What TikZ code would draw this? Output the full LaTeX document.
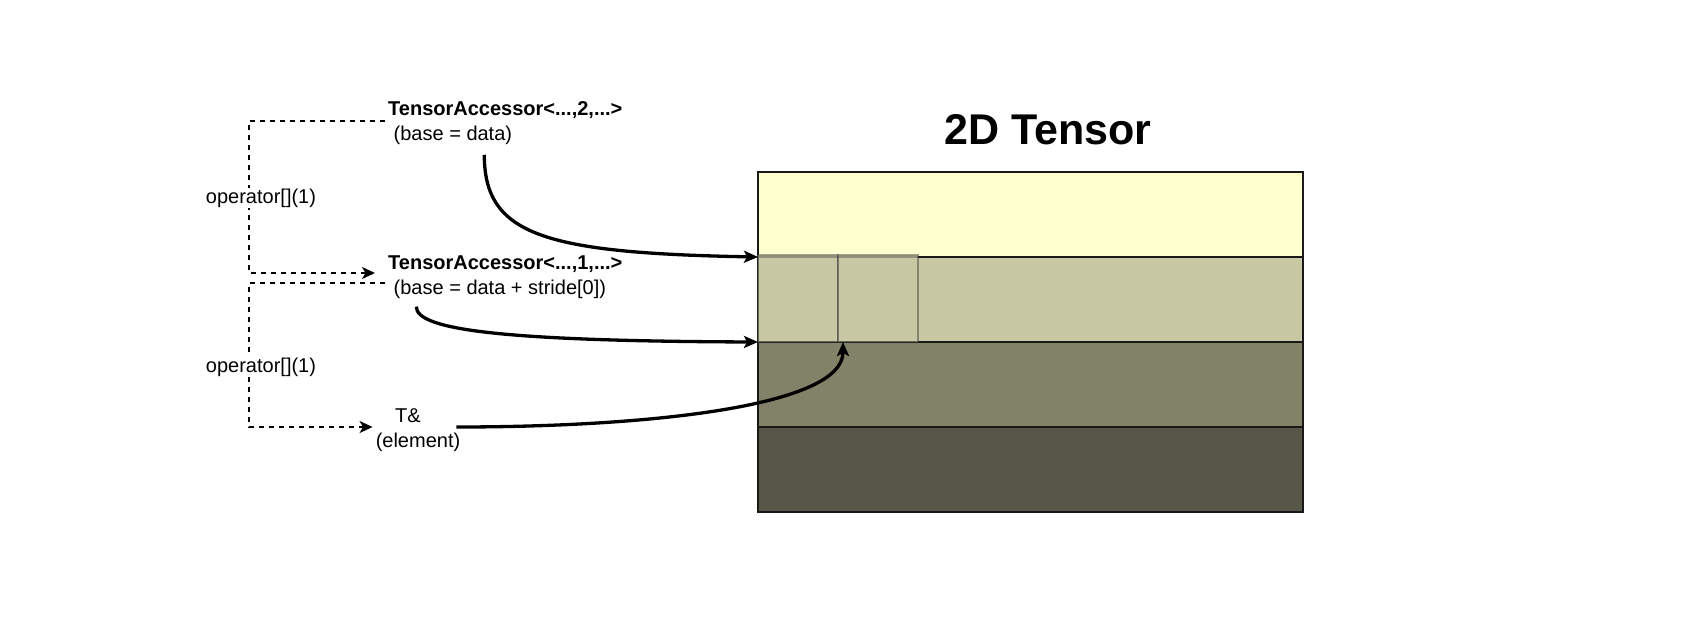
\documentclass[tikz,border=0pt]{standalone}
\usepackage{fontspec}
\setmainfont{Liberation Sans}
\usetikzlibrary{positioning,arrows.meta}
\definecolor{rowA}{HTML}{FFFFD0}
\definecolor{rowB}{HTML}{C8C8A5}
\definecolor{rowC}{HTML}{828269}
\definecolor{rowD}{HTML}{565748}
\begin{document}
\begin{tikzpicture}[x=1pt, y=-1pt, every node/.style={font=\fontsize{20}{25}\selectfont},
		tband/.style={draw=black!90, line width=2pt, minimum width=545pt, minimum height=85pt,
		inner sep=0pt, outer sep=0pt},
		slot/.style={draw=black!80, draw opacity=0.45, fill=rowB, fill opacity=0.7, line width=2.6pt,
		minimum width=80pt, minimum height=87pt, inner sep=0pt, outer sep=0pt},
		acc/.style={align=left, anchor=west, inner xsep=3pt, inner ysep=3pt},
		oplbl/.style={fill=white, inner sep=1pt},
		dashln/.style={line width=1.6pt, dash pattern=on 5pt off 5pt,
		-{Stealth[length=13pt, width=12pt, inset=3.5pt]}},
		ptr/.style={line width=3.3pt, -{Stealth[length=14pt, width=12pt, inset=3pt]}} ]
	\useasboundingbox (0,0) rectangle (1702,630);
	\node[tband, fill=rowA, anchor=north west] (r1) at (758,172) {};
	\node[tband, fill=rowB, below=0pt of r1] (r2) {};
	\node[tband, fill=rowC, below=0pt of r2] (r3) {};
	\node[tband, fill=rowD, below=0pt of r3] (r4) {};
	\node[slot, anchor=south west] (s1) at (r2.south west) {};
	\node[slot, right=0pt of s1] (s2) {};
	\node[font=\fontsize{43}{50}\selectfont\bfseries] (ttl) at (1048,130) {2D Tensor};
	\node[acc] (ta2) at (385,123) {\textbf{TensorAccessor<...,2,...>}\\\hspace*{5.5pt}(base = data)};
	\node[acc] (ta1) at (385,277) {\textbf{TensorAccessor<...,1,...>}\\\hspace*{5.5pt}(base = data + stride[0])};
	\node[align=center, inner xsep=3pt] (tel) at (418,430) {T\&\hspace*{20pt}\\(element)};
	\coordinate (rail) at (249,0);
	\coordinate (in1) at ([yshift=4pt]ta1.west);
	\coordinate (out1) at ([yshift=-6pt]ta1.west);
	\coordinate (in2) at ([yshift=3pt]tel.west);
	\draw[dashln, shorten >=10pt] ([yshift=2pt]ta2.west) -| (rail |- in1) -- (in1);
	\draw[dashln] (out1) -| (rail |- in2) -- (in2);
	\node[oplbl] (op1) at (261,198) {operator[](1)};
	\node[oplbl] (op2) at (261,367) {operator[](1)};
	\draw[ptr] ([xshift=-21pt, yshift=-7pt]ta2.south) .. controls +(0,80) and +(-215,-4) .. (r1.south west);
	\draw[ptr] ([xshift=-89pt, yshift=-5pt]ta1.south) .. controls +(0,23) and +(-258,-1) .. (r2.south west);
	\draw[ptr] ([xshift=-7pt, yshift=3pt]tel.east) .. controls +(195,0) and +(0,64) .. ([xshift=5pt]s2.south west);
\end{tikzpicture}
\end{document}
